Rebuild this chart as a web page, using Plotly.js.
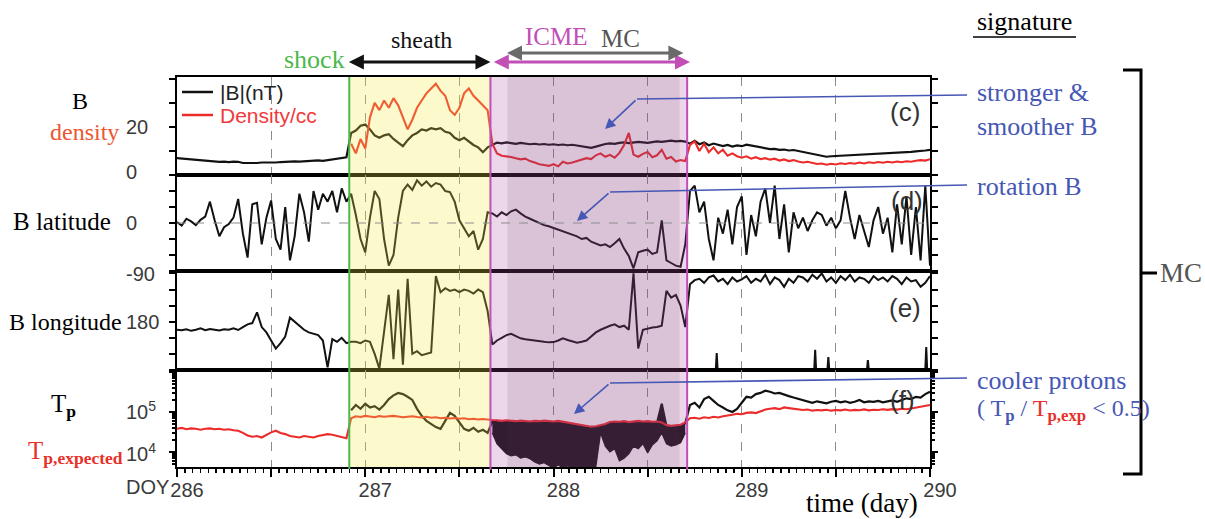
<!DOCTYPE html>
<html><head><meta charset="utf-8">
<script src="https://cdn.plot.ly/plotly-3.0.1.min.js"></script>
<style>html,body{margin:0;padding:0;background:#fff;}#chart{width:1205px;height:519px;}</style>
</head><body><div id="chart"></div>
<script>
// ---- data (day of year sampling grid: 286.000 + i*0.025) ----
const DAY_START = 286, DAY_STEP = 0.025;
const B_NT = [
 7.0,6.8,6.9,6.6,6.4,6.2,5.8,5.6,5.7,5.5,
 5.6,5.4,5.6,5.5,5.0,4.9,5.1,5.0,5.2,5.1,
 5.3,5.2,5.4,5.6,5.5,5.7,5.6,5.8,5.7,6.0,
 6.1,5.9,6.2,6.3,6.6,6.9,7.4,17.5,18.5,20.5,
 21,19,16.5,15.5,16.5,17,15,13.5,12,14.5,
 16.5,17.5,19,18.5,19.5,19,19.5,18,17.5,15.5,
 14.5,15.5,14,12.5,11.5,9.5,11.5,12.5,13.5,13.2,
 13.6,13.3,13.0,13.4,13.1,12.8,13.0,12.7,12.9,12.6,
 12.8,12.5,12.7,12.4,12.6,12.3,12.0,11.6,11.3,11.8,
 12.4,12.9,13.2,13.0,13.4,13.6,13.3,13.5,13.8,13.6,
 13.4,13.7,14.0,13.8,14.1,14.3,14.0,14.2,13.9,13.0,
 14.2,12.8,13.5,12.4,13.1,12.6,12.0,12.5,11.8,12.3,
 12.0,12.6,12.2,11.7,11.4,11.0,10.8,10.9,10.5,10.6,
 10.2,10.4,10.0,9.6,9.2,8.7,8.2,7.8,7.6,7.8,
 7.9,8.1,7.9,8.2,8.4,8.3,8.6,8.4,8.7,8.9,
 8.8,9.0,9.2,9.1,9.4,9.3,9.6,9.8,9.9,10.2,
 10.5];
// density starts at the shock (sample index 37)
const DENSITY_START = 37;
const DENSITY_CC = [
 13,9,15,11,24,30,27,31,28,32,
 29,24,19,23,28,31,34,36,38,35,
 33,27,25,28,34,36,33,31,29,27,
 13,9,8,7.8,7.5,7,6.5,6.8,5.8,5.2,
 4.5,4.2,3.8,4.5,3.6,5.5,4.8,5.2,5.8,6.2,
 7.0,6.6,8.2,9.0,7.6,8.4,7.2,9.2,12.5,17.5,
 8.5,7.6,8.8,9.6,7.4,8.2,10.5,6.8,7.5,5.6,
 6.2,5.8,12.5,14,10,13,9.5,11.5,9,10.5,
 8,9,7.8,7.2,7.8,6.8,7.4,6.6,7.0,6.4,
 6.8,6.0,6.5,5.8,6.2,5.6,5.2,5.5,5.0,4.6,
 4.8,4.3,4.7,4.4,4.9,4.6,5.0,4.7,5.2,4.8,
 5.3,5.0,5.4,5.1,5.5,5.2,5.6,5.3,5.7,5.5,
 5.9,6.2,6.0,6.6];
const B_LAT = [
 2,-5,8,3,-4,6,12,40,5,-25,
 -8,-2,10,45,-20,-65,35,38,-40,10,
 42,-30,-50,30,-70,-25,55,20,-35,60,
 25,55,40,60,20,65,40,55,15,-30,
 -55,10,60,45,-30,-80,-60,10,60,72,
 62,80,70,78,68,75,72,60,58,40,
 5,-10,-25,-15,-50,-30,20,18,12,20,
 15,22,25,18,12,8,4,0,-4,-6,
 -9,-12,-15,-18,-22,-25,-30,-28,-35,-38,
 -42,-40,-45,-38,-30,-48,-62,-85,-55,-52,
 -50,-58,-55,5,-70,-75,-80,-82,-40,60,
 70,20,40,-30,-70,10,-20,25,-40,30,
 50,-60,15,-25,40,65,0,70,-30,35,
 -55,20,-10,10,-15,5,20,15,-5,10,
 -10,5,60,10,-30,15,-15,-45,5,30,
 -20,10,-55,35,-40,50,-60,30,-70,70,
 -80];
const B_LON = [
 150,148,152,146,150,155,148,153,150,147,
 152,150,155,149,160,170,175,215,160,140,
 110,80,100,125,195,180,165,150,140,135,
 130,110,10,115,105,120,100,105,105,100,
 110,105,60,5,150,280,40,300,20,340,
 60,70,55,60,65,350,290,305,295,300,
 290,300,295,285,300,290,220,95,110,120,
 130,135,125,118,115,112,110,108,105,103,
 104,110,118,112,106,102,105,110,125,140,
 150,158,165,170,160,165,150,360,80,150,
 155,158,160,165,295,270,280,240,160,320,
 335,340,325,345,352,330,340,320,345,330,
 338,350,325,340,330,355,320,345,335,310,
 340,325,350,345,330,355,340,360,330,345,
 325,350,335,355,330,345,340,325,350,335,
 345,330,350,340,320,345,330,335,310,325,
 350];
// short wrap-around spikes of longitude near 0 deg after the ICME
const LON_WRAP_DOY = [288.862,288.867,288.872,null,289.385,289.39,289.395,null,289.455,289.46,289.465,null,289.665,289.67,289.675,null,289.975,289.98,289.985];
const LON_WRAP_DEG = [0,63,0,null,0,75,0,null,0,48,0,null,0,37,0,null,0,86,0];
const TP_EXPECTED = [
 38000,40000,37000,39000,38000,36000,38000,39000,37000,38000,
 36000,37000,35000,34000,30000,26000,24000,25000,23000,27000,
 31000,34000,30000,28000,25000,24000,23000,25000,24000,23000,
 25000,26000,28000,27000,25000,23000,22000,70000,78000,75000,
 80000,77000,74000,79000,76000,78000,80000,77000,74000,76000,
 78000,75000,73000,76000,72000,74000,70000,72000,69000,71000,
 68000,70000,66000,68000,65000,67000,64000,63000,62000,60000,
 62000,61000,59000,61000,60000,58000,60000,59000,61000,60000,
 58000,60000,57000,55000,52000,50000,47000,45000,43000,44000,
 46000,50000,56000,58000,57000,59000,56000,58000,60000,58000,
 59000,57000,58000,55000,47000,45000,46000,48000,55000,70000,
 72000,68000,74000,71000,76000,73000,78000,80000,85000,90000,
 88000,95000,98000,94000,105000,115000,120000,125000,118000,130000,
 125000,120000,118000,112000,115000,108000,112000,110000,114000,108000,
 112000,110000,115000,109000,113000,111000,116000,110000,114000,112000,
 117000,113000,118000,115000,120000,117000,122000,128000,135000,142000,
 150000];
// measured Tp starts at the shock (sample index 37)
const TP_START = 37;
const TP_K = [
 110000,150000,120000,160000,130000,140000,115000,150000,210000,260000,
 300000,280000,240000,200000,120000,80000,60000,50000,42000,38000,
 60000,95000,80000,55000,38000,34000,40000,32000,36000,30000,
 58000,56000,55000,57000,56000,54000,56000,55000,53000,55000,
 54000,56000,55000,53000,55000,52000,50000,48000,46000,43000,
 41000,40000,41000,43000,47000,52000,54000,53000,55000,52000,
 54000,56000,54000,55000,53000,54000,160000,44000,42000,43000,
 45000,52000,150000,170000,130000,210000,240000,190000,150000,130000,
 110000,100000,120000,170000,240000,230000,280000,300000,340000,320000,
 290000,300000,270000,250000,230000,215000,200000,180000,170000,185000,
 175000,165000,180000,190000,175000,185000,170000,180000,200000,175000,
 185000,180000,190000,175000,185000,195000,180000,200000,220000,210000,
 240000,230000,280000,320000];
// lower envelope of the strongly fluctuating Tp inside the ICME (sample index 67..108)
const TPMIN_START = 67;
const TP_MIN_K = [
 30000,16000,12000,9000,8000,8500,7000,7500,6800,5600,
 5000,5400,4600,3900,4800,3900,4500,3900,4300,3900,
 4400,3900,4300,30000,14000,10000,12000,6000,7000,9000,
 14000,12000,16000,9500,15000,19000,30000,16000,14000,15000,
 17000,30000];
// event times (DOY)
const EVENT_NAMES = ['shock','icmeStart','icmeEnd','mcStart','mcEnd'];
const EVENT_DOY = [286.915, 287.665, 288.71, 287.755, 288.67];
const X_TICKS = [286,286.5,287,287.5,288,288.5,289,289.5,290];
const X_TICK_TEXT = ['286','','287','','288','','289','','290'];

// ---- build ----
const TIME = B_NT.map((_, i) => DAY_START + i * DAY_STEP);
const EV = {}; EVENT_NAMES.forEach((n, i) => EV[n] = EVENT_DOY[i]);
const W = 1205, H = 519;
const px = x => x / W, py = y => 1 - y / H;
const SERIF = 'Liberation Serif, Times New Roman, serif';
const NARROW = 'Liberation Sans Narrow, Arial Narrow, Liberation Sans, Arial, sans-serif';
const BLUE = '#4657b5', MAG = '#c24fb5', GREEN = '#4cb84c', RED = '#ec2b2b', BLK = '#111';

const tpIcmeIdx0 = TPMIN_START - TP_START;
const traces = [
 {x: TIME, y: B_NT, xaxis:'x', yaxis:'y', mode:'lines', line:{color:BLK, width:2.2}},
 {x: TIME.slice(DENSITY_START), y: DENSITY_CC, xaxis:'x', yaxis:'y', mode:'lines', line:{color:RED, width:2.1}},
 {x: TIME, y: B_LAT, xaxis:'x2', yaxis:'y2', mode:'lines', line:{color:BLK, width:2}},
 {x: TIME, y: B_LON, xaxis:'x3', yaxis:'y3', mode:'lines', line:{color:BLK, width:2}},
 {x: LON_WRAP_DOY, y: LON_WRAP_DEG, xaxis:'x3', yaxis:'y3', mode:'lines', line:{color:BLK, width:2}},
 {x: TIME.slice(TP_START), y: TP_K, xaxis:'x4', yaxis:'y4', mode:'lines', line:{color:BLK, width:2.2}},
 {x: TIME.slice(TPMIN_START, TPMIN_START + TP_MIN_K.length), y: TP_K.slice(tpIcmeIdx0, tpIcmeIdx0 + TP_MIN_K.length), xaxis:'x4', yaxis:'y4', mode:'lines', line:{color:BLK, width:0.5}},
 {x: TIME.slice(TPMIN_START, TPMIN_START + TP_MIN_K.length), y: TP_MIN_K, xaxis:'x4', yaxis:'y4', mode:'lines', fill:'tonexty', fillcolor:BLK, line:{color:BLK, width:1.2}},
 {x: TIME, y: TP_EXPECTED, xaxis:'x4', yaxis:'y4', mode:'lines', line:{color:RED, width:2.1}}
];
traces.forEach(t => { t.showlegend = false; t.hoverinfo = 'skip'; });

const PANELS = [[77,175],[175,271],[271,370],[370,467]];
const dom = p => [py(p[1]), py(p[0])];
const xCommon = {range:[286,290], domain:[px(177), px(930)], tickmode:'array', tickvals:X_TICKS,
  showgrid:true, gridcolor:'#8c8c8c', griddash:'dash', gridwidth:1, showline:true, linecolor:'#000',
  linewidth:2.2, mirror:true, zeroline:false, fixedrange:true, ticks:'', showticklabels:false};
const yCommon = {showline:true, linecolor:'#000', linewidth:2.2, mirror:'ticks', ticks:'outside', ticklen:6,
  tickwidth:2, tickcolor:'#000', showticklabels:false, showgrid:false, zeroline:false, tickmode:'array', fixedrange:true};

const layout = {
  width: W, height: H, autosize:false, margin:{l:0,r:0,t:0,b:0}, paper_bgcolor:'#fff', plot_bgcolor:'#fff',
  xaxis: Object.assign({}, xCommon, {anchor:'y'}),
  xaxis2: Object.assign({}, xCommon, {anchor:'y2', matches:'x'}),
  xaxis3: Object.assign({}, xCommon, {anchor:'y3', matches:'x'}),
  xaxis4: Object.assign({}, xCommon, {anchor:'y4', matches:'x', ticks:'outside', ticklen:8, tickwidth:2, tickcolor:'#000',
     showticklabels:true, ticktext:X_TICK_TEXT, ticklabelshift:10, ticklabelstandoff:-4, tickfont:{family:NARROW, size:20, color:'#3a3a3a'},
     minor:{tickmode:'linear', tick0:286, dtick:1/24, ticks:'outside', ticklen:4, tickwidth:1.5, tickcolor:'#000'}}),
  yaxis: Object.assign({}, yCommon, {domain:dom(PANELS[0]), range:[0,40.8], tickvals:[0,10,20,30,40], anchor:'x'}),
  yaxis2: Object.assign({}, yCommon, {domain:dom(PANELS[1]), range:[-90,90], tickvals:[-90,-60,-30,0,30,60,90], anchor:'x2'}),
  yaxis3: Object.assign({}, yCommon, {domain:dom(PANELS[2]), range:[0,369], tickvals:[0,60,120,180,240,300,360], anchor:'x3'}),
  yaxis4: Object.assign({}, yCommon, {domain:dom(PANELS[3]), type:'log', range:[3.625,6.05], tickvals:[1e4,1e5,1e6], anchor:'x4',
     minor:{tickmode:'array', tickvals:[5e3,6e3,7e3,8e3,9e3,2e4,3e4,4e4,5e4,6e4,7e4,8e4,9e4,2e5,3e5,4e5,5e5,6e5,7e5,8e5,9e5], ticks:'outside', ticklen:3, tickwidth:1.5, tickcolor:'#000'}}),
  shapes: [], annotations: []
};

const S = layout.shapes, A = layout.annotations;
// shading (semi transparent, above data)
S.push({type:'rect', xref:'x', yref:'paper', x0:EV.shock, x1:EV.icmeStart, y0:py(467), y1:py(77), fillcolor:'rgba(245,232,70,0.27)', line:{width:0}, layer:'above'});
S.push({type:'rect', xref:'x', yref:'paper', x0:EV.icmeStart, x1:EV.icmeEnd, y0:py(467), y1:py(77), fillcolor:'rgba(170,70,160,0.22)', line:{width:0}, layer:'above'});
S.push({type:'rect', xref:'x', yref:'paper', x0:EV.mcStart, x1:EV.mcEnd, y0:py(467), y1:py(77), fillcolor:'rgba(90,60,80,0.12)', line:{width:0}, layer:'above'});
S.push({type:'line', xref:'x', yref:'paper', x0:EV.shock, x1:EV.shock, y0:py(469), y1:py(77), line:{color:GREEN, width:2}, layer:'above'});
S.push({type:'line', xref:'x', yref:'paper', x0:EV.icmeStart, x1:EV.icmeStart, y0:py(470), y1:py(77), line:{color:MAG, width:2}, layer:'above'});
S.push({type:'line', xref:'x', yref:'paper', x0:EV.icmeEnd, x1:EV.icmeEnd, y0:py(470), y1:py(77), line:{color:MAG, width:2}, layer:'above'});
// dashed zero line in latitude panel
S.push({type:'line', xref:'x2 domain', yref:'y2', x0:0, x1:1, y0:0, y1:0, line:{color:'#8c8c8c', width:1, dash:'dash'}});
// legend samples
S.push({type:'line', xref:'paper', yref:'paper', x0:px(182), x1:px(213), y0:py(92), y1:py(92), line:{color:BLK, width:2.5}});
S.push({type:'line', xref:'paper', yref:'paper', x0:px(182), x1:px(213), y0:py(115), y1:py(115), line:{color:RED, width:2.5}});
// signature underline
S.push({type:'line', xref:'paper', yref:'paper', x0:px(973), x1:px(1076), y0:py(37), y1:py(37), line:{color:'#000', width:1.5}});
// right bracket
S.push({type:'path', xref:'paper', yref:'paper', path:`M ${px(1123)} ${py(70)} L ${px(1141)} ${py(70)} L ${px(1141)} ${py(474)} L ${px(1123)} ${py(474)}`, line:{color:'#000', width:3}});
S.push({type:'line', xref:'paper', yref:'paper', x0:px(1141), x1:px(1157), y0:py(273), y1:py(273), line:{color:'#000', width:3}});
// blue pointer lines
[[95,637,99],[185,610,192],[378,610,383]].forEach(([yr, xb, yb]) => {
  S.push({type:'line', xref:'paper', yref:'paper', x0:px(967), x1:px(xb), y0:py(yr), y1:py(yb), line:{color:BLUE, width:1.6}});
});
function arrowPx(x1,y1,x2,y2,color,width){
  return {x:px(x2), y:py(y2), xref:'paper', yref:'paper', ax:x1-x2, ay:y1-y2, text:'', showarrow:true,
    arrowhead:2, arrowsize:1.3, arrowwidth:width, arrowcolor:color, standoff:0, startstandoff:0};
}
A.push(arrowPx(637,99,605,129,BLUE,1.6));
A.push(arrowPx(610,192,577,221,BLUE,1.6));
A.push(arrowPx(610,383,574,414,BLUE,1.6));
// top double arrows (data x, pixel y)
function dblArrow(t1,t2,y,color,width){
  return {x:t2, xref:'x', ax:t1, axref:'x', y:py(y), yref:'paper', ay:0, text:'', showarrow:true, arrowside:'end+start',
    arrowhead:2, arrowsize:1, arrowwidth:width, arrowcolor:color, standoff:0, startstandoff:0};
}
A.push(dblArrow(EV.shock - 0.01, EV.icmeStart, 62, BLK, 3));
A.push(dblArrow(EV.icmeStart + 0.01, EV.icmeEnd + 0.015, 62, MAG, 3));
A.push(dblArrow(EV.mcStart - 0.01, EV.mcEnd + 0.02, 53, '#6a6a6a', 3));

function txt(text, x, y, size, color, opt){
  return Object.assign({text, x:px(x), y:py(y), xref:'paper', yref:'paper', showarrow:false, xanchor:'center', yanchor:'middle',
    font:{family:SERIF, size, color}}, opt || {});
}
A.push(txt('shock', 314, 59, 26, GREEN));
A.push(txt('sheath', 421, 40, 24, BLK));
A.push(txt('ICME', 556, 37, 25, MAG));
A.push(txt('MC', 621, 38, 25, '#555'));
A.push(txt('signature', 1024, 22, 26, '#000'));
A.push(txt('stronger &amp;', 975, 92, 26, BLUE, {xanchor:'left'}));
A.push(txt('smoother B', 975, 126, 26, BLUE, {xanchor:'left'}));
A.push(txt('rotation B', 975, 187, 26, BLUE, {xanchor:'left'}));
A.push(txt('cooler protons', 975, 380, 26, BLUE, {xanchor:'left'}));
A.push(txt('( T<sub><b>p</b></sub> / <span style="color:#e8302a">T<sub><b>p,exp</b></sub></span> &lt; 0.5)', 975, 410, 24, BLUE, {xanchor:'left'}));
A.push(txt('MC', 1158, 273, 27, '#555', {xanchor:'left'}));
A.push(txt('time (day)', 862, 503, 27, '#000'));
// left labels
A.push(txt('B', 80, 101, 24, '#000'));
A.push(txt('density', 84, 132, 24, '#ee5533'));
A.push(txt('B latitude', 62, 221, 25, '#000'));
A.push(txt('B longitude', 65, 322, 24, '#000'));
A.push(txt('T<sub><b>p</b></sub>', 63, 405, 25, '#000'));
A.push(txt('T<sub><b>p,expected</b></sub>', 75, 452, 25, '#e8302a'));
// legend text
A.push(txt('|B|(nT)', 218, 93, 21, '#222', {xanchor:'left', font:{family:NARROW, size:21, color:'#222'}}));
A.push(txt('Density/cc', 218, 115, 21, '#f03a3a', {xanchor:'left', font:{family:NARROW, size:21, color:'#f03a3a'}}));
// panel tags
[['(c)',905,112],['(d)',907,201],['(e)',905,308],['(f)',902,400]].forEach(([t,x,y]) =>
  A.push(txt(t, x, y, 26, '#333', {font:{family:NARROW, size:26, color:'#333'}})));
// y tick labels (left aligned, like the original)
function ytl(text, yref, y, ys){
  return {text, x:px(124), xref:'paper', xanchor:'left', y, yref, yanchor:'middle', yshift:ys||0, showarrow:false,
    font:{family:NARROW, size:20, color:'#3a3a3a'}};
}
A.push(ytl('20','y',20,0));
A.push(ytl('0','y',0,3));
A.push(ytl('0','y2',0,0));
A.push(ytl('-90','y2',-90,-3));
A.push(ytl('180','y3',180,0));
A.push(ytl('10<sup>5</sup>','y4',5,2));
A.push(ytl('10<sup>4</sup>','y4',4,0));
A.push({text:'DOY', x:px(171), xref:'paper', xanchor:'right', y:py(487), yref:'paper', yanchor:'middle', showarrow:false,
  font:{family:NARROW, size:20, color:'#3a3a3a'}});

Plotly.newPlot('chart', traces, layout, {staticPlot:true, displayModeBar:false});
</script>
</body></html>
